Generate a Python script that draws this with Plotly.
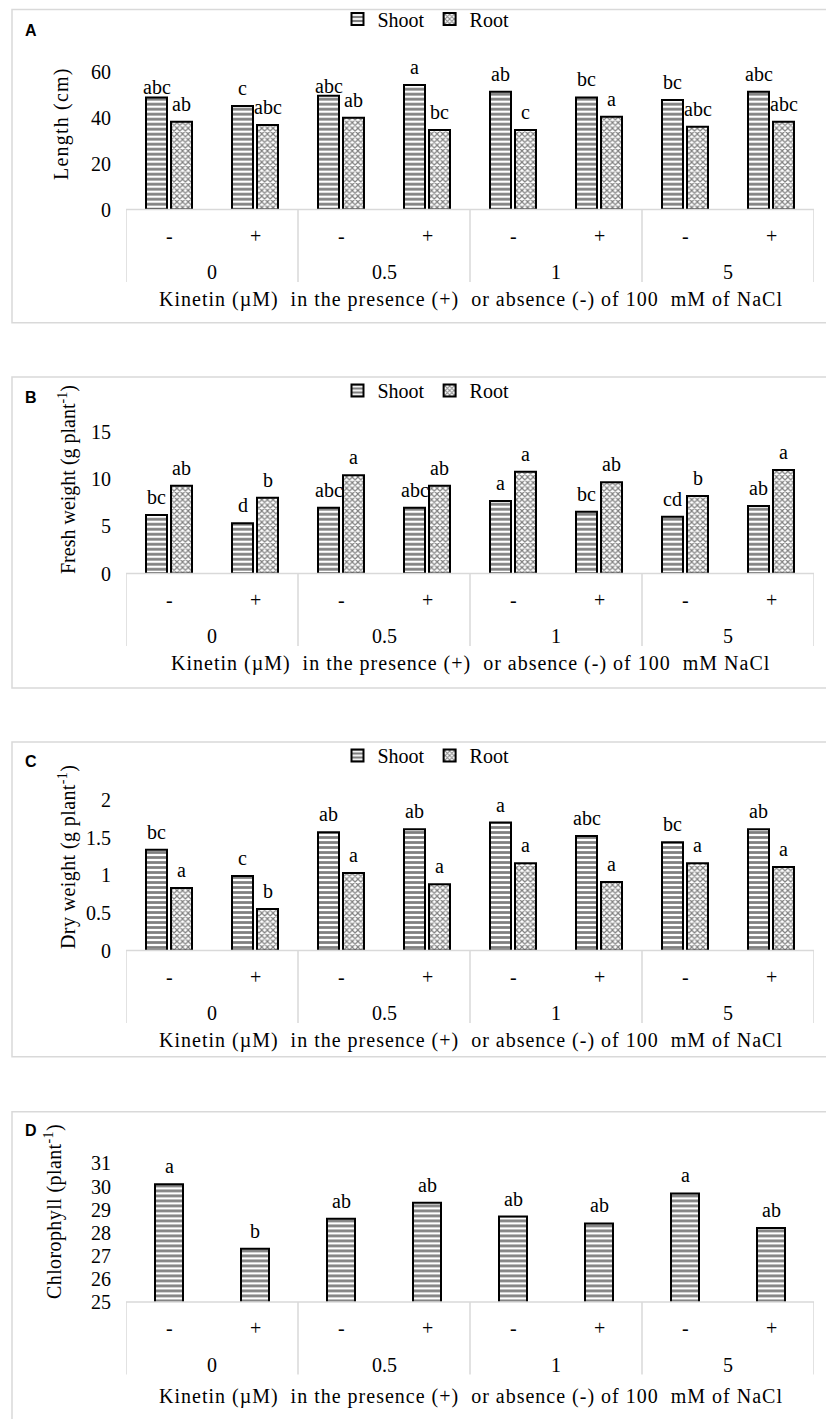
import plotly.graph_objects as go

# ---------------- data ----------------
kinetin_groups = ["0", "0.5", "1", "5"]
nacl_levels = ["-", "+"]

length_shoot = [48.8, 45.1, 49.5, 54.2, 51.3, 48.8, 47.7, 51.3]
length_root = [38.2, 36.8, 40.0, 34.6, 34.6, 40.4, 36.0, 38.2]
length_shoot_sig = ["abc", "c", "abc", "a", "ab", "bc", "bc", "abc"]
length_root_sig = ["ab", "abc", "ab", "bc", "c", "a", "abc", "abc"]

fresh_shoot = [6.19, 5.31, 6.96, 6.96, 7.67, 6.54, 6.01, 7.14]
fresh_root = [9.29, 8.02, 10.39, 9.29, 10.77, 9.65, 8.2, 10.95]
fresh_shoot_sig = ["bc", "d", "abc", "abc", "a", "bc", "cd", "ab"]
fresh_root_sig = ["ab", "b", "a", "ab", "a", "ab", "b", "a"]

dry_shoot = [1.34, 0.99, 1.57, 1.61, 1.70, 1.52, 1.44, 1.61]
dry_root = [0.83, 0.55, 1.03, 0.88, 1.16, 0.91, 1.16, 1.11]
dry_shoot_sig = ["bc", "c", "ab", "ab", "a", "abc", "bc", "ab"]
dry_root_sig = ["a", "b", "a", "a", "a", "a", "a", "a"]

chlorophyll = [30.1, 27.3, 28.6, 29.3, 28.7, 28.4, 29.7, 28.2]
chlorophyll_sig = ["a", "b", "ab", "ab", "ab", "ab", "a", "ab"]

series_names = ["Shoot", "Root"]

# ---------------- layout helpers ----------------
W, H = 826, 1419
def PX(x):
    return x / W
def PY(y):
    return 1 - y / H

SERIF = "Liberation Serif, Times New Roman, serif"
SANS = "Liberation Sans, Arial, sans-serif"
GRID = "#d9d9d9"

categories = [(g, s) for g in kinetin_groups for s in nacl_levels]
xpos = list(range(len(categories)))

panels = [
    dict(letter="A", shoot=length_shoot, root=length_root, ssig=length_shoot_sig, rsig=length_root_sig,
         yrange=[0, 60], dtick=20, top=71.7, base=209.5, box=(9.5, 322.7), legend_y=19, legend="legend",
         ytitle="Length (cm)", ytitle_sp=1.2, ytitle_x=62, ytitle_y=124, letter_y=31,
         xtitle="Kinetin (\u00b5M)  in the presence (+)  or absence (-) of 100  mM of NaCl"),
    dict(letter="B", shoot=fresh_shoot, root=fresh_root, ssig=fresh_shoot_sig, rsig=fresh_root_sig,
         yrange=[0, 15], dtick=5, top=431.75, base=573.5, box=(377, 688), legend_y=390.5, legend="legend2",
         ytitle="Fresh weight (g plant<sup>-1</sup>)", ytitle_sp=0, ytitle_x=67, ytitle_y=480, letter_y=397,
         xtitle="Kinetin (\u00b5M)  in the presence (+)  or absence (-) of 100  mM NaCl"),
    dict(letter="C", shoot=dry_shoot, root=dry_root, ssig=dry_shoot_sig, rsig=dry_root_sig,
         yrange=[0, 2], dtick=0.5, top=800, base=950.5, box=(742, 1056.7), legend_y=755.5, legend="legend3",
         ytitle="Dry weight (g plant<sup>-1</sup>)", ytitle_sp=0.4, ytitle_x=67, ytitle_y=857, letter_y=761,
         xtitle="Kinetin (\u00b5M)  in the presence (+)  or absence (-) of 100  mM of NaCl"),
    dict(letter="D", shoot=chlorophyll, root=None, ssig=chlorophyll_sig, rsig=None,
         yrange=[25, 31], dtick=1, top=1163.4, base=1302, box=(1111.7, 1430), legend_y=None, legend=None,
         ytitle="Chlorophyll (plant<sup>-1</sup>)", ytitle_sp=0.4, ytitle_x=53, ytitle_y=1212, letter_y=1130.5,
         xtitle="Kinetin (\u00b5M)  in the presence (+)  or absence (-) of 100  mM of NaCl"),
]

shoot_marker = dict(color="white", line=dict(color="black", width=2),
                    pattern=dict(shape="-", size=5, solidity=0.55, fgcolor="black", bgcolor="white"))
root_marker = dict(color="white", line=dict(color="black", width=2),
                   pattern=dict(shape="x", size=4, solidity=0.5, fgcolor="black", bgcolor="white"))

fig = go.Figure()
shapes = []
annotations = []
layout_extra = {}

CAT_W = 86.0  # px per category
bar_w2 = 21 / CAT_W
gap2 = 2 / CAT_W
bar_w1 = 28 / CAT_W
lab_off = 12.5 / CAT_W
TXT = dict(family=SERIF, size=20, color="black")

def spaced(text, sp):
    if sp:
        return ('<span style="letter-spacing:%.1fpx;font-size:20px;font-family:Liberation Serif, serif">%s</span>'
                % (sp, text))
    return text

for k, p in enumerate(panels):
    n = "" if k == 0 else str(k + 1)
    xa, ya = "x" + n, "y" + n
    xkey, ykey = "xaxis" + n, "yaxis" + n

    if p["root"] is not None:
        fig.add_trace(go.Bar(x=xpos, y=p["shoot"], name=series_names[0], xaxis=xa, yaxis=ya,
                             width=bar_w2, offset=-(bar_w2 + gap2), marker=shoot_marker,
                             legend=p["legend"], showlegend=True))
        fig.add_trace(go.Bar(x=xpos, y=p["root"], name=series_names[1], xaxis=xa, yaxis=ya,
                             width=bar_w2, offset=gap2, marker=root_marker,
                             legend=p["legend"], showlegend=True))
        layout_extra[p["legend"]] = dict(
            orientation="h", x=PX(426), xanchor="center", y=PY(p["legend_y"]), yanchor="middle",
            font=TXT, bgcolor="rgba(0,0,0,0)", itemwidth=30, traceorder="normal")
    else:
        fig.add_trace(go.Bar(x=xpos, y=p["shoot"], name=series_names[0], xaxis=xa, yaxis=ya,
                             width=bar_w1, offset=-bar_w1 / 2, marker=shoot_marker, showlegend=False))

    base0 = p["base"]
    layout_extra[xkey] = dict(domain=[PX(126), PX(814)], range=[-0.5, len(categories) - 0.5],
                              anchor=ya, showticklabels=False, showgrid=False, zeroline=False,
                              showline=False, ticks="", fixedrange=True)
    layout_extra[ykey] = dict(domain=[PY(base0), PY(p["top"])], range=p["yrange"], dtick=p["dtick"],
                              anchor=xa, showgrid=False, zeroline=False, showline=False, ticks="",
                              ticklabelstandoff=14, tickfont=TXT)

    # significance letters
    for i in xpos:
        if p["root"] is not None:
            ys = 10 if (p["letter"] == "A" and i in (0, 2)) else 18
            annotations.append(dict(x=i - lab_off, y=p["shoot"][i], xref=xa, yref=ya, text=p["ssig"][i],
                                    showarrow=False, yanchor="middle", yshift=ys, font=TXT))
            annotations.append(dict(x=i + lab_off, y=p["root"][i], xref=xa, yref=ya, text=p["rsig"][i],
                                    showarrow=False, yanchor="middle", yshift=18, font=TXT))
        else:
            annotations.append(dict(x=i, y=p["shoot"][i], xref=xa, yref=ya, text=p["ssig"][i],
                                    showarrow=False, yanchor="middle", yshift=18, font=TXT))

    # category table
    shapes.append(dict(type="line", xref=xa, yref="paper", x0=-0.5, x1=len(categories) - 0.5,
                       y0=PY(base0), y1=PY(base0), line=dict(color=GRID, width=1.5)))
    for g in range(len(kinetin_groups) + 1):
        xv = g * len(nacl_levels) - 0.5
        shapes.append(dict(type="line", xref=xa, yref="paper", x0=xv, x1=xv,
                           y0=PY(base0), y1=PY(base0 + 72.5), line=dict(color=GRID, width=1.5)))
    for i, (g, s) in enumerate(categories):
        annotations.append(dict(x=i, y=PY(base0 + 26), xref=xa, yref="paper", text=s, showarrow=False,
                                yanchor="middle", font=TXT))
    for gi, g in enumerate(kinetin_groups):
        annotations.append(dict(x=gi * len(nacl_levels) + (len(nacl_levels) - 1) / 2, y=PY(base0 + 62.5),
                                xref=xa, yref="paper", text=g, showarrow=False, yanchor="middle", font=TXT))
    # x-axis title
    annotations.append(dict(x=PX(471), y=PY(base0 + 90 if k < 3 else base0 + 94.5), xref="paper", yref="paper",
                            text=spaced(p["xtitle"].replace("  ", "\u00a0 "), 1.0),
                            showarrow=False, xanchor="center", yanchor="middle", font=TXT))
    # y-axis title
    annotations.append(dict(x=PX(p["ytitle_x"]), y=PY(p["ytitle_y"]), xref="paper", yref="paper",
                            text=spaced(p["ytitle"], p["ytitle_sp"]), textangle=-90, showarrow=False,
                            xanchor="center", yanchor="middle", font=TXT))
    # panel letter
    annotations.append(dict(x=PX(31), y=PY(p["letter_y"]), xref="paper", yref="paper",
                            text="<b>" + p["letter"] + "</b>", showarrow=False,
                            xanchor="center", yanchor="middle",
                            font=dict(family=SANS, size=16, color="black")))
    # panel frame
    shapes.append(dict(type="rect", xref="paper", yref="paper", x0=PX(12), x1=PX(835),
                       y0=PY(p["box"][1]), y1=PY(p["box"][0]), line=dict(color=GRID, width=1.5),
                       layer="below"))

fig.update_layout(
    width=W, height=H, margin=dict(l=0, r=0, t=0, b=0, autoexpand=False),
    paper_bgcolor="white", plot_bgcolor="white",
    barmode="overlay",
    shapes=shapes, annotations=annotations,
    font=TXT,
    **layout_extra,
)

fig.write_html("out.html", config={"displayModeBar": False},
               post_script="document.body.style.margin='0';document.body.style.overflow='hidden';")
